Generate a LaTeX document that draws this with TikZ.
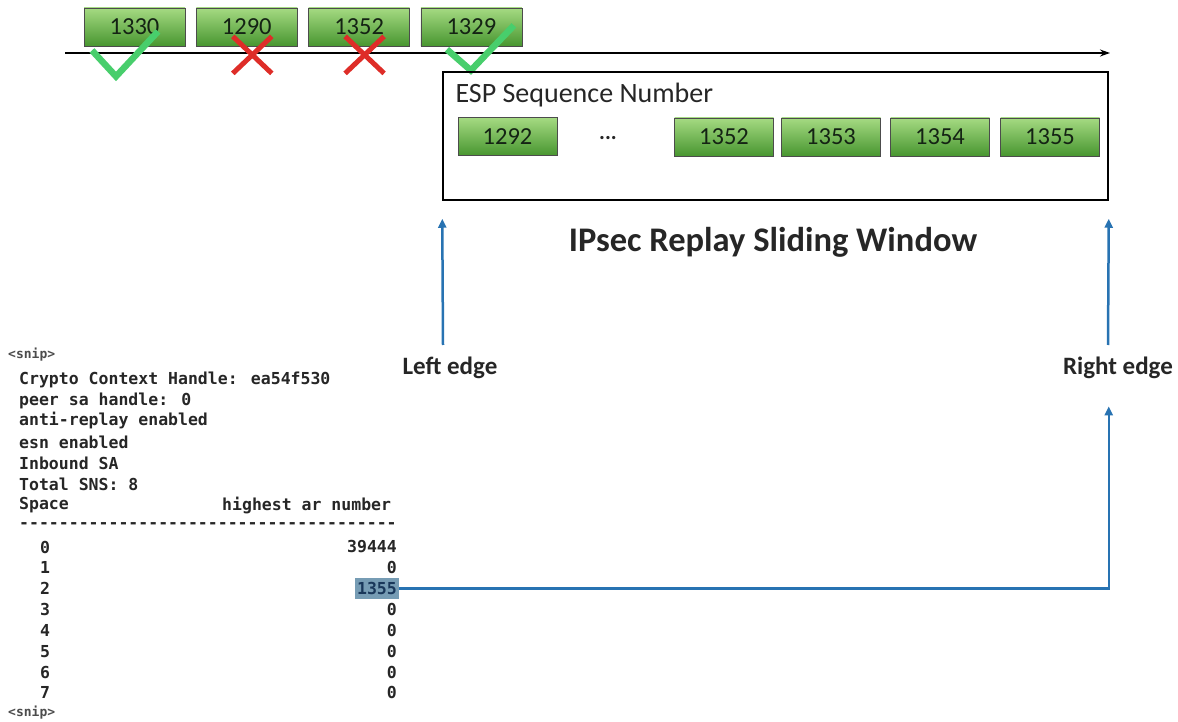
\documentclass[tikz,border=0pt]{standalone}
\usepackage{fontspec}
\setmainfont{Carlito}
\newfontfamily\codefont{DejaVu Sans Mono}[Ligatures=TeXOff]
\usetikzlibrary{arrows.meta,calc,positioning}
\definecolor{boxtop}{RGB}{165,218,130}
\definecolor{boxbot}{RGB}{72,150,48}
\definecolor{okgreen}{RGB}{72,206,108}
\definecolor{badred}{RGB}{222,45,40}
\definecolor{edgeblue}{RGB}{40,115,178}
\definecolor{hlblue}{RGB}{118,156,180}
\definecolor{txt}{RGB}{38,38,38}

\tikzset{
  seqbox/.style={draw=black!70, line width=0.8pt, top color=boxtop, bottom color=boxbot,
    minimum width=101pt, minimum height=38pt, inner sep=0pt,
    font=\fontsize{24.5}{24.5}\selectfont, text={rgb,255:red,20;green,35;blue,20}},
  tick/.style={okgreen, line width=6.5pt},
  cross/.style={badred, line width=5pt},
  edgearrow/.style={edgeblue, line width=2.5pt, -{Triangle[width=8pt,length=9pt]}},
  codeline/.style={anchor=west, inner sep=0pt, text=black!85,
    font=\codefont\bfseries\fontsize{16.5}{16.5}\selectfont},
  sniptext/.style={anchor=west, inner sep=0pt, text=black!70,
    font=\codefont\bfseries\fontsize{13}{13}\selectfont},
  edgelabel/.style={font=\bfseries\fontsize{25}{25}\selectfont, text=txt},
}

\begin{document}
\begin{tikzpicture}[x=1pt,y=-1pt]
\useasboundingbox (0,0) rectangle (1178,722);

% incoming packets
\foreach \v [count=\i] in {1330,1290,1352,1329}
  \node[seqbox] (top\i) at ({134.5+(\i-1)*112.3},27) {\v};

\draw[line width=1.5pt, -{Stealth[length=10pt,width=7pt]}] (65,53) -- (1110,53);

\draw[tick] ($(top1.south)+(-42.5,4)$) -- ($(top1.south)+(-18.5,30)$) -- ($(top1.south)+(23.5,-15)$);
\draw[tick] ($(top4.south)+(-24.5,3)$) -- ($(top4.south)+(-0.5,24)$) -- ($(top4.south)+(42.5,-21)$);
\foreach \j in {2,3} {
  \draw[cross] ($(top\j.south)+(-14,-10)$) -- ($(top\j.south)+(25,27)$)
               ($(top\j.south)+(-14,27)$) -- ($(top\j.south)+(25,-10)$);
}

% sliding window
\node[draw, line width=1.5pt, minimum width=665pt, minimum height=128pt, inner sep=0pt] (win) at (775.5,136) {};
\node[anchor=west, font=\fontsize{28}{28}\selectfont, text=txt] (esp) at (452,95) {ESP Sequence Number};

\node[seqbox, minimum width=99pt] (w1) at (507.5,136.5) {1292};
\node[font=\bfseries\fontsize{22}{22}\selectfont, text=txt] (dots) at (608,138) {...};
\foreach \v/\x [count=\i from 2] in {1352/724,1353/831,1354/940,1355/1050}
  \node[seqbox, minimum width=99pt] (w\i) at (\x,137) {\v};

\node[font=\bfseries\fontsize{34.5}{34.5}\selectfont, text=txt] (title) at (773,242) {IPsec Replay Sliding Window};

% edges
\node[edgelabel] (ledge) at (450,368) {Left edge};
\node[edgelabel] (redge) at (1118,368) {Right edge};
\coordinate (lfoot) at (443,345);
\coordinate (rfoot) at (1108,345);
\draw[edgearrow] (lfoot) -- ([yshift=-18pt]win.south west);
\draw[edgearrow] (rfoot) -- ([yshift=-18pt]win.south east);

% show crypto ipsec sa output
\node[sniptext] (snip1) at (8,355) {<snip>};
\node[codeline] (l1) at (19,380) {Crypto Context Handle: ea54f530};
\node[codeline] (l2) at (19,401) {peer sa handle: 0};
\node[codeline] (l3) at (19,421) {anti-replay enabled};
\node[codeline] (l4) at (19,442) {esn enabled};
\node[codeline] (l5) at (19,463) {Inbound SA};
\node[codeline] (l6) at (19,484) {Total SNS: 8};
\node[codeline] (l7) at (19,505) {Space};
\node[codeline] (l7b) at (222,505) {highest ar number};
\node[codeline] (l8) at (19,526) {--------------------------------------};
\foreach \i in {0,...,7}
  \node[codeline] (idx\i) at (40,{547+20.85*\i}) {\i};
\foreach \i/\v in {0/39444,1/0,3/0,4/0,5/0,6/0,7/0}
  \node[codeline, anchor=east] (val\i) at (397,{547+20.85*\i}) {\v};
\node[codeline, anchor=east, fill=hlblue, inner xsep=2pt, minimum height=21pt,
      text={rgb,255:red,25;green,55;blue,90}] (hl) at (399,{547+20.85*2}) {1355};
\node[sniptext] (snip2) at (8,713) {<snip>};

\draw[edgearrow] (hl.east) -| ([yshift=-24pt]redge.south -| win.east);

\end{tikzpicture}
\end{document}
